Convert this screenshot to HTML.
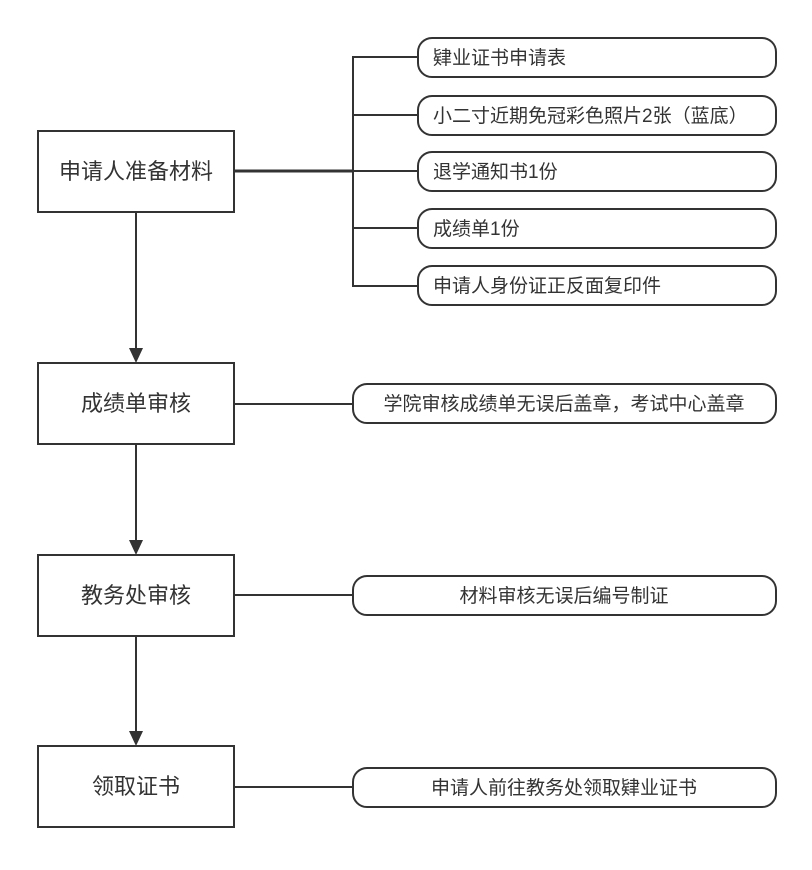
<!DOCTYPE html>
<html><head><meta charset="utf-8"><style>
body{margin:0;background:#fff;width:812px;height:865px;overflow:hidden}
svg text{font-family:"Liberation Sans","Noto Sans CJK SC",sans-serif;fill:#333}
</style></head><body>
<svg width="812" height="865" xmlns="http://www.w3.org/2000/svg">
<g stroke="#333" stroke-width="2" fill="#fff">
<rect x="38" y="131" width="196" height="81"/>
<rect x="38" y="363" width="196" height="81"/>
<rect x="38" y="555" width="196" height="81"/>
<rect x="38" y="746" width="196" height="81"/>
</g>
<g stroke="#333" stroke-width="2" fill="none">
<line x1="234" y1="171" x2="353" y2="171" stroke-width="3"/>
<polyline points="418,57 353,57 353,286 418,286"/>
<line x1="353" y1="115" x2="418" y2="115"/>
<line x1="353" y1="171" x2="418" y2="171"/>
<line x1="353" y1="228" x2="418" y2="228"/>
<line x1="234" y1="404" x2="353" y2="404"/>
<line x1="234" y1="595" x2="353" y2="595"/>
<line x1="234" y1="787" x2="353" y2="787"/>
<line x1="136" y1="212" x2="136" y2="350"/>
<line x1="136" y1="444" x2="136" y2="542"/>
<line x1="136" y1="636" x2="136" y2="733"/>
</g>
<g fill="#333">
<polygon points="129,348 143,348 136,363"/>
<polygon points="129,540 143,540 136,555"/>
<polygon points="129,731 143,731 136,746"/>
</g>
<g stroke="#333" stroke-width="2" fill="#fff">
<rect x="418" y="38" width="358" height="39" rx="14"/>
<rect x="418" y="96" width="358" height="39" rx="14"/>
<rect x="418" y="152" width="358" height="39" rx="14"/>
<rect x="418" y="209" width="358" height="39" rx="14"/>
<rect x="418" y="266" width="358" height="39" rx="14"/>
<rect x="353" y="384" width="423" height="39" rx="14"/>
<rect x="353" y="576" width="423" height="39" rx="14"/>
<rect x="353" y="768" width="423" height="39" rx="14"/>
</g>
<g font-size="22" text-anchor="middle">
<text x="136" y="179">申请人准备材料</text>
<text x="136" y="411">成绩单审核</text>
<text x="136" y="603">教务处审核</text>
<text x="136" y="794">领取证书</text>
</g>
<g font-size="19">
<text x="433" y="64">肄业证书申请表</text>
<text x="433" y="122">小二寸近期免冠彩色照片2张（蓝底）</text>
<text x="433" y="178">退学通知书1份</text>
<text x="433" y="235">成绩单1份</text>
<text x="433" y="292">申请人身份证正反面复印件</text>
</g>
<g font-size="19" text-anchor="middle">
<text x="564" y="410">学院审核成绩单无误后盖章，考试中心盖章</text>
<text x="564" y="602">材料审核无误后编号制证</text>
<text x="564" y="794">申请人前往教务处领取肄业证书</text>
</g>
</svg>
</body></html>
